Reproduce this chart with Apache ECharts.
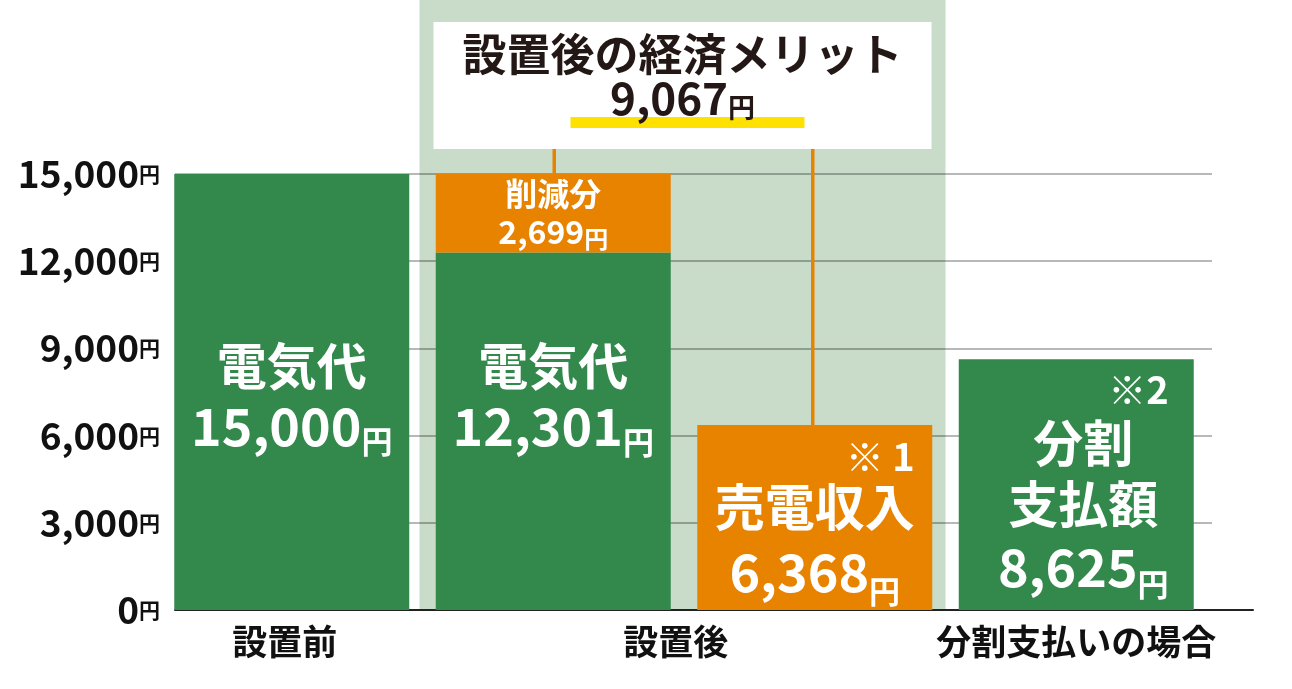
<!DOCTYPE html>
<html><head><meta charset="utf-8">
<script src="https://cdn.jsdelivr.net/npm/echarts@6/dist/echarts.min.js"></script>
<style>html,body{margin:0;padding:0;background:#fff}#c{width:1292px;height:689px}</style>
</head><body><div id="c"></div>
<script>
// ---- data ----
const categories = ['設置前', '設置後', '設置後（売電）', '分割支払いの場合'];
const mainValues = [15000, 12301, 6368, 8625];
const reductionValues = [null, 2699, null, null];
const yTicks = [0, 3000, 6000, 9000, 12000, 15000];
const meritTitle = '設置後の経済メリット';
const meritValue = 9067;

const FONT = "'Noto Sans CJK JP','Noto Sans',sans-serif";
const GREEN = '#33884b';
const ORANGE = '#e88300';
const fmt = v => v.toLocaleString('en-US');

const W = '#fff';
function richSet(L) {
  return {
    t: {fontFamily: FONT, fontSize: 50, fontWeight: 'bold', color: W, lineHeight: L.t},
    n: {fontFamily: FONT, fontSize: 52, fontWeight: 'bold', color: W, lineHeight: L.n},
    y: {fontFamily: FONT, fontSize: 31, fontWeight: 'bold', color: W, lineHeight: 54, verticalAlign: 'bottom'},
    m: {fontFamily: FONT, fontSize: 38, fontWeight: 'bold', color: W, lineHeight: L.m || 40, align: 'right'}
  };
}
const mainLabels = [
  {show: true, position: 'inside', offset: [0, 4],
   formatter: p => `{t|電気代}\n{n|${fmt(p.value)}}{y|円}`, rich: richSet({t: 61, n: 61})},
  {show: true, position: 'inside', offset: [0, -35],
   formatter: p => `{t|電気代}\n{n|${fmt(p.value)}}{y|円}`, rich: richSet({t: 61, n: 61})},
  {show: true, position: 'inside', offset: [0, 4],
   formatter: p => `{m|※ 1}\n{t|売電収入}\n{n|${fmt(p.value)}}{y|円}`, rich: richSet({m: 41, t: 61, n: 69})},
  {show: true, position: 'inside', offset: [7, -2],
   formatter: p => `{m|※2}\n{t|分割}\n{t|支払額}\n{n|${fmt(p.value)}}{y|円}`, rich: richSet({m: 47, t: 61, n: 65})}
];
const redLabel = {
  show: true, position: 'inside', offset: [0, 0],
  formatter: p => `{t|削減分}\n{n|${fmt(p.value)}}{y|円}`,
  rich: {
    t: {fontFamily: FONT, fontSize: 32, fontWeight: 'bold', color: W, lineHeight: 37},
    n: {fontFamily: FONT, fontSize: 32, fontWeight: 'bold', color: W, lineHeight: 37},
    y: {fontFamily: FONT, fontSize: 24, fontWeight: 'bold', color: W, lineHeight: 38, verticalAlign: 'bottom'}
  }
};

const chart = echarts.init(document.getElementById('c'));
const yMax = yTicks[yTicks.length - 1];
const yStep = yTicks[1] - yTicks[0];

const option = {
  backgroundColor: '#fff',
  animation: false,
  grid: [
    {left: 161, right: 85, top: 174, bottom: 79},
    {left: 175, right: 80, top: 174, bottom: 79},
    {left: 175, right: 39, top: 174, bottom: 79}
  ],
  xAxis: [
    {type: 'category', gridIndex: 0, data: categories,
     axisLine: {show: false}, axisTick: {show: false}, splitLine: {show: false},
     axisLabel: {
       interval: 0, margin: 14, color: '#111', fontFamily: FONT, fontSize: 35, fontWeight: 'bold',
       formatter: (v, i) => i === 0 ? `{a|${v}}` : i === 1 ? `{s|${v}}` : i === 2 ? '' : `{b|${v}}`,
       rich: {
         a: {fontFamily: FONT, fontSize: 35, fontWeight: 'bold', color: '#111', padding: [0, 14, 0, 0]},
         s: {fontFamily: FONT, fontSize: 35, fontWeight: 'bold', color: '#111', padding: [0, 0, 0, 245]},
         b: {fontFamily: FONT, fontSize: 35, fontWeight: 'bold', color: '#111'}
       }
     }},
    {type: 'category', gridIndex: 1, data: categories, show: false},
    {type: 'category', gridIndex: 2, data: categories,
     axisLine: {show: true, lineStyle: {color: '#222', width: 2}},
     axisTick: {show: false}, axisLabel: {show: false}, splitLine: {show: false}}
  ],
  yAxis: [
    {type: 'value', gridIndex: 0, min: 0, max: yMax, interval: yStep, show: false},
    {type: 'value', gridIndex: 1, min: 0, max: yMax, interval: yStep,
     axisLine: {show: false}, axisTick: {show: false},
     splitLine: {show: true, lineStyle: {color: 'rgba(0,0,0,0.28)', width: 2}},
     axisLabel: {
       margin: 15,
       formatter: v => `{n|${fmt(v)}}{y|円}`,
       rich: {
         n: {fontFamily: FONT, fontSize: 37, fontWeight: 'bold', color: '#111', lineHeight: 42},
         y: {fontFamily: FONT, fontSize: 21, fontWeight: 'bold', color: '#111', lineHeight: 42}
       }
     }},
    {type: 'value', gridIndex: 2, min: 0, max: yMax, interval: yStep, show: false}
  ],
  series: [
    {type: 'bar', xAxisIndex: 0, yAxisIndex: 0, stack: 's', barWidth: 235, z: 3,
     data: mainValues.map((v, i) => ({value: v, itemStyle: {color: i === 2 ? ORANGE : GREEN}, label: mainLabels[i]}))},
    {type: 'bar', xAxisIndex: 0, yAxisIndex: 0, stack: 's', barWidth: 235, z: 3,
     itemStyle: {color: ORANGE},
     data: reductionValues.map(v => v == null ? '-' : {value: v, label: redLabel})}
  ]
};
chart.setOption(option);

// annotation geometry via the chart's own scales
const px = (c, v) => chart.convertToPixel({gridIndex: 0}, [c, v]);
const c1 = px(1, 0), c2 = px(2, 0);
const band = c2[0] - c1[0];
const bgX = c1[0] - band / 2 - 3, bgW = band * 2 + 3, base = c1[1];
const top1 = px(1, mainValues[1] + reductionValues[1])[1];
const top2 = px(2, mainValues[2])[1];
const boxX = bgX + 14, boxW = bgW - 28, boxY = 22, boxH = 127;
const cx = boxX + boxW / 2;

chart.setOption({
  graphic: [
    {type: 'rect', z: -1, silent: true, shape: {x: bgX, y: 0, width: bgW, height: base}, style: {fill: '#c8dcc9'}},
    {type: 'rect', z: 10, shape: {x: boxX, y: boxY, width: boxW, height: boxH}, style: {fill: '#fff'}},
    {type: 'rect', z: 11, shape: {x: cx - 112, y: 117, width: 234, height: 11}, style: {fill: '#ffe100'}},
    {type: 'line', z: 10, shape: {x1: c1[0] + 1, y1: boxY + boxH, x2: c1[0] + 1, y2: top1}, style: {stroke: ORANGE, lineWidth: 3.5}},
    {type: 'line', z: 10, shape: {x1: c2[0] - 2, y1: boxY + boxH, x2: c2[0] - 2, y2: top2}, style: {stroke: ORANGE, lineWidth: 3.5}},
    {type: 'text', z: 12, x: cx, y: 54,
     style: {text: meritTitle, fill: '#231815', font: `bold 44px ${FONT}`, textAlign: 'center', textVerticalAlign: 'middle'}},
    {type: 'text', z: 12, x: cx, y: 98,
     style: {
       text: `{n|${fmt(meritValue)}}{y|円}`, textAlign: 'center', textVerticalAlign: 'middle',
       rich: {
         n: {fontFamily: FONT, fontSize: 44, fontWeight: 'bold', fill: '#231815', lineHeight: 46},
         y: {fontFamily: FONT, fontSize: 27, fontWeight: 'bold', fill: '#231815', lineHeight: 36, verticalAlign: 'bottom'}
       }
     }}
  ]
});
</script>
</body></html>
